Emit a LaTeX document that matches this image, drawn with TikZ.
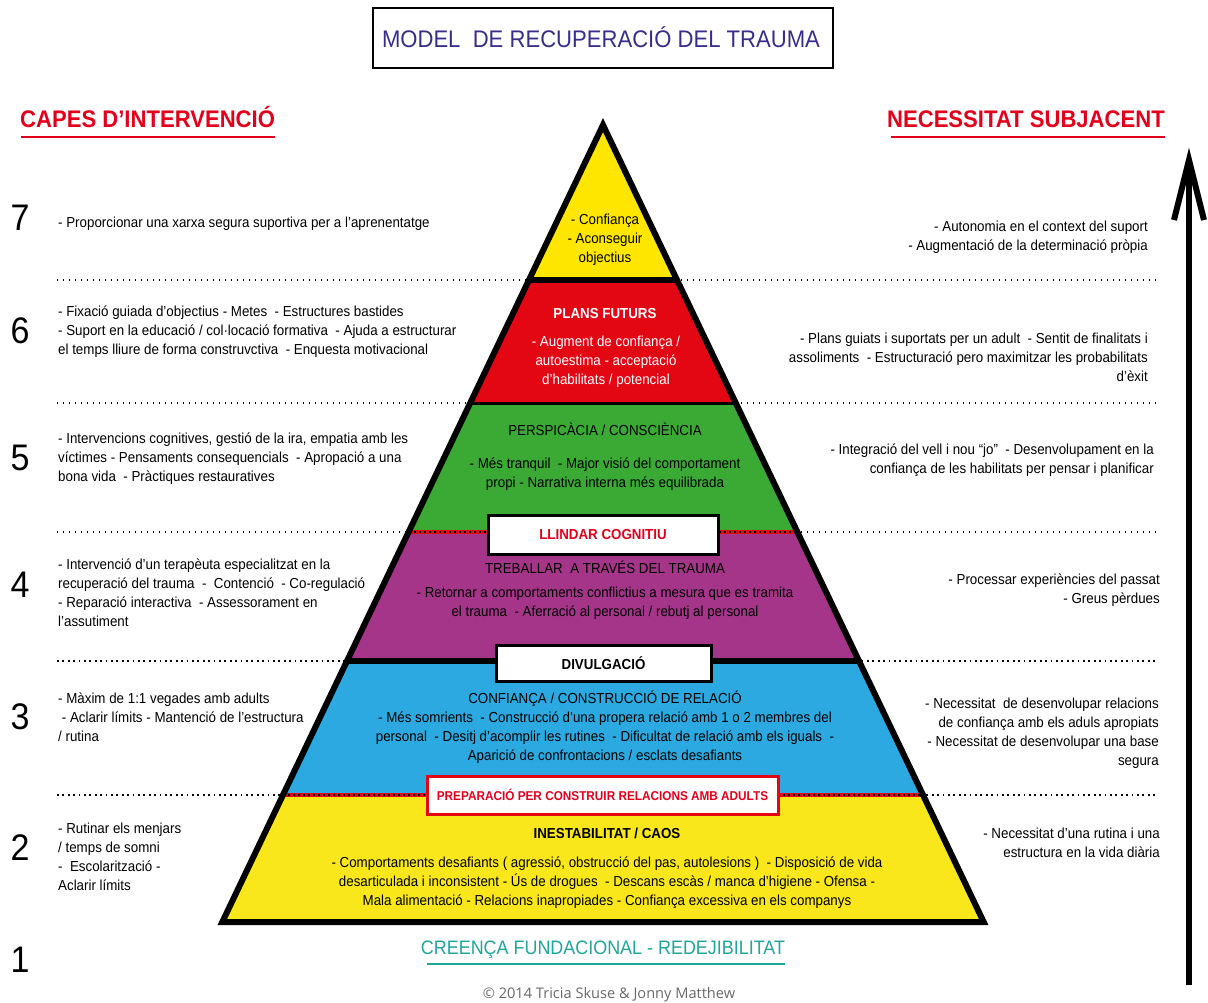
\documentclass[tikz,border=0pt]{standalone}
\usepackage{fontspec}
\setmainfont{Liberation Sans}[FakeStretch=0.92]
\newfontfamily\copyf{Open Sans}
\definecolor{cTop}{RGB}{255,230,0}
\definecolor{cRed}{RGB}{227,6,19}
\definecolor{cGreen}{RGB}{58,170,53}
\definecolor{cPurple}{RGB}{165,53,137}
\definecolor{cBlue}{RGB}{45,169,225}
\definecolor{cBot}{RGB}{249,231,27}
\definecolor{cTitle}{RGB}{56,45,140}
\definecolor{cHead}{RGB}{226,0,26}
\definecolor{cTeal}{RGB}{32,166,155}
\definecolor{cGray}{RGB}{105,105,105}
\begin{document}
\begin{tikzpicture}[x=1pt,y=-1pt,
  side/.style={inner sep=0pt, font=\fontsize{14.5}{19}\selectfont},
  lside/.style={side, align=left, anchor=base west},
  rside/.style={side, align=right, anchor=base east},
  ptext/.style={inner sep=0pt, align=center, anchor=base, font=\fontsize{14.5}{19}\selectfont},
  phead/.style={ptext, font=\fontsize{14.5}{19}\selectfont\bfseries},
  pheadr/.style={ptext},
  num/.style={inner sep=0pt, anchor=center, font=\fontsize{37}{37}\selectfont},
  header/.style={inner sep=0pt, text=cHead, font=\fontsize{24}{24}\selectfont\bfseries},
  dotline/.style={line width=1.3pt, dash pattern=on 1.4pt off 4.6pt},
  dotlineb/.style={line width=1.8pt, dash pattern=on 1.8pt off 3.6pt},
  redsep/.style={line width=4pt, cRed},
  blacksep/.style={line width=1.6pt, dash pattern=on 2pt off 3pt},
  labbox/.style={fill=white, line width=3pt, inner sep=0pt, font=\fontsize{14.5}{19}\selectfont\bfseries}
]
\useasboundingbox (0,0) rectangle (1208,1002);
\fill[white] (0,0) rectangle (1208,1002);

% title
\node[draw, line width=2pt, minimum width=460pt, minimum height=60pt, inner sep=0pt] (titlebox) at (603,38) {};
\node[anchor=base, inner sep=0pt, text=cTitle, font=\fontsize{24}{24}\selectfont] (title) at (601,47) {MODEL\ \ DE RECUPERACIÓ DEL TRAUMA};

% headers
\node[header, anchor=base west] (hleft) at (20,127) {CAPES D’INTERVENCIÓ};
\node[header, anchor=base east] (hright) at (1165,127) {NECESSITAT SUBJACENT};
\draw[cHead, line width=1.5pt] (21,137) -- (275,137);
\draw[cHead, line width=1.5pt] (891,137) -- (1165,137);

% dotted separators
\foreach \yy in {280,403,532}
  \draw[dotline] (57,\yy) -- (1157,\yy);
\foreach \yy in {661,795}
  \draw[dotlineb] (57,\yy) -- (1157,\yy);

% pyramid geometry
\coordinate (A) at (603,125);
\coordinate (L1) at (529.0,280); \coordinate (R1) at (677.0,280);
\coordinate (L2) at (470.2,403); \coordinate (R2) at (735.8,403);
\coordinate (L3) at (408.6,532); \coordinate (R3) at (797.4,532);
\coordinate (L4) at (347.0,661); \coordinate (R4) at (859.0,661);
\coordinate (L5) at (283.0,795); \coordinate (R5) at (923.0,795);
\coordinate (L6) at (222.3,922); \coordinate (R6) at (983.7,922);

\fill[cTop] (A) -- (R1) -- (L1) -- cycle;
\fill[cRed] (L1) -- (R1) -- (R2) -- (L2) -- cycle;
\fill[cGreen] (L2) -- (R2) -- (R3) -- (L3) -- cycle;
\fill[cPurple] (L3) -- (R3) -- (R4) -- (L4) -- cycle;
\fill[cBlue] (L4) -- (R4) -- (R5) -- (L5) -- cycle;
\fill[cBot] (L5) -- (R5) -- (R6) -- (L6) -- cycle;

\draw[line width=6pt] (L1) -- (R1);
\draw[line width=3pt] (L2) -- (R2);
\draw[redsep] (L3) -- (R3);
\draw[blacksep] (L3) -- (R3);
\draw[line width=6pt] (L4) -- (R4);
\draw[redsep] (L5) -- (R5);
\draw[blacksep] (L5) -- (R5);
\draw[line width=6pt, line join=miter] (A) -- (R6) -- (L6) -- cycle;

% label boxes
\node[labbox, draw=black, text=cHead, minimum width=230pt, minimum height=39pt] (llindar) at (603,534.5) {LLINDAR COGNITIU};
\node[labbox, draw=black, minimum width=215pt, minimum height=36pt] (divulg) at (603.5,663) {DIVULGACIÓ};
\node[labbox, draw=cRed, text=cHead, minimum width=351pt, minimum height=38pt, font=\fontsize{12.8}{15}\selectfont\bfseries] (prep) at (602.5,795) {PREPARACIÓ PER CONSTRUIR RELACIONS AMB ADULTS};

% pyramid texts (anchor base = baseline of last line)
\node[ptext] (t7) at (605,262) {- Confiança\\- Aconseguir\\objectius};
\node[phead, text=white] (t6h) at (605,318) {PLANS FUTURS};
\node[ptext, text=white] (t6) at (606,384) {- Augment de confiança /\\autoestima - acceptació\\d’habilitats / potencial};
\node[pheadr] (t5h) at (605,435) {PERSPICÀCIA / CONSCIÈNCIA};
\node[ptext] (t5) at (605,487) {- Més tranquil\ \ - Major visió del comportament\\propi - Narrativa interna més equilibrada};
\node[pheadr] (t4h) at (605,573) {TREBALLAR\ \ A TRAVÉS DEL TRAUMA};
\node[ptext] (t4) at (605,616) {- Retornar a comportaments conflictius a mesura que es tramita\\el trauma\ \ - Aferració al personal / rebutj al personal};
\node[pheadr] (t3h) at (605,703) {CONFIANÇA / CONSTRUCCIÓ DE RELACIÓ};
\node[ptext] (t3) at (605,760) {- Més somrients\ \ - Construcció d’una propera relació amb\ 1 o 2 membres del\\personal\ \ - Desitj d’acomplir les rutines\ \ - Dificultat de relació amb els iguals\ \ -\\Aparició de confrontacions / esclats desafiants};
\node[phead] (t2h) at (607,838) {INESTABILITAT / CAOS};
\node[ptext] (t2) at (607,905) {- Comportaments desafiants ( agressió, obstrucció del pas, autolesions )\ \ - Disposició de vida\\desarticulada i inconsistent - Ús de drogues\ \ - Descans escàs / manca d’higiene - Ofensa -\\Mala alimentació - Relacions inapropiades - Confiança excessiva en els companys};

% numbers
\node[num] (n7) at (20,218) {7};
\node[num] (n6) at (20,331) {6};
\node[num] (n5) at (20,458) {5};
\node[num] (n4) at (20,585) {4};
\node[num] (n3) at (20,717) {3};
\node[num] (n2) at (20,848) {2};
\node[num] (n1) at (20,960) {1};

% left texts
\node[lside] (l7) at (58,227) {- Proporcionar una xarxa segura suportiva per a l’aprenentatge};
\node[lside] (l6) at (58,354) {- Fixació guiada d’objectius - Metes\ \ - Estructures bastides\\- Suport en la educació / col·locació formativa\ \ - Ajuda a estructurar\\el temps lliure de forma construvctiva\ \ - Enquesta motivacional};
\node[lside] (l5) at (58,481) {- Intervencions cognitives, gestió de la ira, empatia amb les\\víctimes - Pensaments consequencials\ \ - Apropació a una\\bona vida\ \ - Pràctiques restauratives};
\node[lside] (l4) at (58,626) {- Intervenció d’un terapèuta especialitzat en la\\recuperació del trauma\ \ -\ \ Contenció\ \ - Co-regulació\\- Reparació interactiva\ \ - Assessorament en\\l’assutiment};
\node[lside] (l3) at (58,741) {- Màxim de 1:1 vegades amb adults\\\ - Aclarir límits - Mantenció de l’estructura\\/ rutina};
\node[lside] (l2) at (58,890) {- Rutinar els menjars\\/ temps de somni\\-\ \ Escolarització -\\Aclarir límits};

% right texts
\node[rside] (r7) at (1148,250) {- Autonomia en el context del suport\\- Augmentació de la determinació pròpia};
\node[rside] (r6) at (1148,381) {- Plans guiats i suportats per un adult\ \ - Sentit de finalitats i\\assoliments\ \ - Estructuració pero maximitzar les probabilitats\\d’èxit};
\node[rside] (r5) at (1154,473) {- Integració del vell i nou “jo”\ \ - Desenvolupament en la\\confiança de les habilitats per pensar i planificar};
\node[rside] (r4) at (1160,603) {- Processar experiències del passat\\- Greus pèrdues};
\node[rside] (r3) at (1159,765) {- Necessitat\ \ de desenvolupar relacions\\de confiança amb els aduls apropiats\\- Necessitat de desenvolupar una base\\segura};
\node[rside] (r2) at (1160,857) {- Necessitat d’una rutina i una\\estructura en la vida diària};

% bottom
\node[anchor=base, inner sep=0pt, text=cTeal, font=\fontsize{19.5}{20}\selectfont] (found) at (603,954) {CREENÇA FUNDACIONAL - REDEJIBILITAT};
\draw[cTeal, line width=1.5pt] (427,964) -- (785,964);
\node[anchor=base, inner sep=0pt, text=cGray, font=\copyf\fontsize{14.6}{15}\selectfont] (copy) at (609,998) {© 2014 Tricia Skuse \& Jonny Matthew};

% arrow
\coordinate (arrB) at (1189,985);
\coordinate (arrT) at (1189,160);
\draw[line width=6pt] (arrB) -- (arrT);
\draw[line width=6pt, line join=miter] (1174,220) -- (arrT) -- (1204,220);
\end{tikzpicture}
\end{document}
